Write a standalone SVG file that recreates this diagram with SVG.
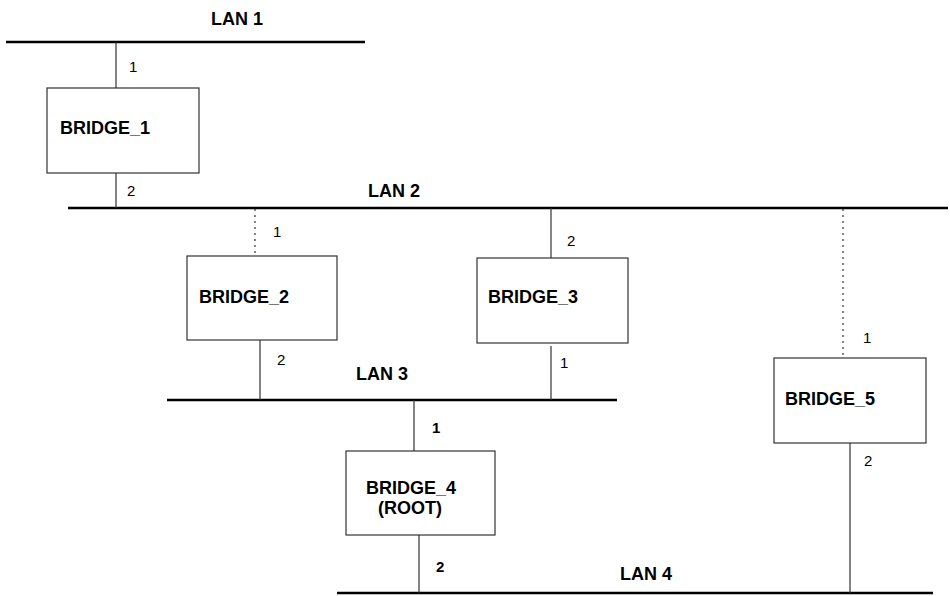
<svg xmlns="http://www.w3.org/2000/svg" width="950" height="596" viewBox="0 0 950 596">
<style>
.lan{stroke:#000;stroke-width:2.5;fill:none}
.box{fill:#fff;stroke:#333;stroke-width:1.2}
.link{stroke:#333;stroke-width:1.2;fill:none}
.dot{stroke:#333;stroke-width:1.2;fill:none;stroke-dasharray:2 4}
.lbl{font-family:"Liberation Sans",Arial,sans-serif;font-weight:bold;font-size:18px;fill:#000}
.port{font-family:"Liberation Sans",Arial,sans-serif;font-size:15px;fill:#000}
.bport{font-family:"Liberation Sans",Arial,sans-serif;font-size:15px;font-weight:bold;fill:#000}
</style>
<rect width="950" height="596" fill="#fff"/>
<g id="lans">
<g id="lan1"><line class="lan" x1="6" y1="42" x2="365" y2="42"/><text class="lbl" x="211" y="25">LAN 1</text></g>
<g id="lan2"><line class="lan" x1="68" y1="208" x2="948" y2="208"/><text class="lbl" x="368" y="197">LAN 2</text></g>
<g id="lan3"><line class="lan" x1="167" y1="400" x2="617" y2="400"/><text class="lbl" x="356" y="380">LAN 3</text></g>
<g id="lan4"><line class="lan" x1="337" y1="593" x2="933" y2="593"/><text class="lbl" x="620" y="580">LAN 4</text></g>
</g>
<g id="connectors">
<line class="link" x1="116" y1="42" x2="116" y2="88"/>
<line class="link" x1="116" y1="173" x2="116" y2="208"/>
<line class="dot" x1="255" y1="209" x2="255" y2="256"/>
<line class="link" x1="260" y1="340" x2="260" y2="400"/>
<line class="link" x1="551" y1="208" x2="551" y2="258"/>
<line class="link" x1="551" y1="346" x2="551" y2="400"/>
<line class="link" x1="414" y1="400" x2="414" y2="451"/>
<line class="link" x1="419" y1="535" x2="419" y2="593"/>
<line class="dot" x1="843" y1="209" x2="843" y2="358"/>
<line class="link" x1="850" y1="443" x2="850" y2="593"/>
</g>
<g id="bridge1"><rect class="box" x="47" y="88" width="152" height="85"/><text class="lbl" x="60" y="134">BRIDGE_1</text><text class="port" x="129" y="72">1</text><text class="port" x="127" y="196">2</text></g>
<g id="bridge2"><rect class="box" x="187" y="256" width="150" height="84"/><text class="lbl" x="199" y="303">BRIDGE_2</text><text class="port" x="273" y="237">1</text><text class="port" x="277" y="365">2</text></g>
<g id="bridge3"><rect class="box" x="477" y="258" width="151" height="85"/><text class="lbl" x="488" y="303">BRIDGE_3</text><text class="port" x="567" y="246">2</text><text class="port" x="560" y="368">1</text></g>
<g id="bridge4"><rect class="box" x="346" y="451" width="149" height="84"/><text class="lbl" x="411" y="494" text-anchor="middle">BRIDGE_4</text><text class="lbl" x="410" y="514" text-anchor="middle">(ROOT)</text><text class="bport" x="432" y="433">1</text><text class="bport" x="436" y="572">2</text></g>
<g id="bridge5"><rect class="box" x="774" y="358" width="152" height="85"/><text class="lbl" x="785" y="405">BRIDGE_5</text><text class="port" x="863" y="343">1</text><text class="port" x="864" y="466">2</text></g>
</svg>
